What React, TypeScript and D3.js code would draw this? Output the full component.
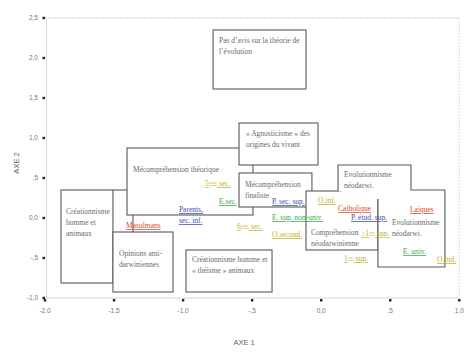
import React from "react";
import * as d3 from "d3";

// ---- Data (in axis units) ----
const xTicks = [-2, -1.5, -1, -0.5, 0, 0.5, 1];
const xTickLabels = ["-2,0", "-1,5", "-1,0", "-,5", "0,0", ",5", "1,0"];
const yTicks = [2.5, 2, 1.5, 1, 0.5, 0, -0.5, -1];
const yTickLabels = ["2,5", "2,0", "1,5", "1,0", ",5", "0,0", "-,5", "-1,0"];

// rectangular regions [x0, x1] x [y0, y1]
const boxes = [
  { id: "creaHA", x0: -1.884, x1: -1.508, y0: -0.8125, y1: 0.35 },
  { id: "mecoTheo", x0: -1.406, x1: -0.494, y0: 0.0375, y1: 0.875 },
  { id: "opinions", x0: -1.508, x1: -1.073, y0: -0.925, y1: -0.175 },
  { id: "creaTheisme", x0: -0.979, x1: -0.356, y0: -0.925, y1: -0.4 },
  { id: "pasAvis", x0: -0.783, x1: -0.11, y0: 1.6125, y1: 2.35 },
  { id: "agno", x0: -0.595, x1: -0.023, y0: 0.6625, y1: 1.1875 },
  { id: "mecoFin", x0: -0.595, x1: -0.067, y0: 0.1375, y1: 0.5625 },
  { id: "compr", x0: -0.11, x1: 0.411, y0: -0.4, y1: 0.3375 },
];

// merged "Evolutionnisme néodarwi." outline
const evolOutline: [number, number][] = [
  [0.122, 0.3375], [0.122, 0.6625], [0.65, 0.6625], [0.65, 0.35],
  [0.896, 0.35], [0.896, -0.6125], [0.411, -0.6125], [0.411, 0.2375],
];

const connectors: [number, number][][] = [
  [[-1.508, 0.35], [-1.406, 0.35]],
  [[-1.363, 0.0375], [-1.363, -0.175]],
];

const boxTexts = [
  { lines: ["Pas d’avis sur la théorie de", "l’évolution"], x: -0.74, y: 2.1875 },
  { lines: ["« Agnosticisme » des", "origines du vivant"], x: -0.545, y: 1.025 },
  { lines: ["Mécompréhension théorique"], x: -1.363, y: 0.575 },
  { lines: ["Mécompréhension", "finaliste"], x: -0.552, y: 0.3875 },
  { lines: ["Créationnisme", "homme et", "animaux"], x: -1.848, y: 0.05 },
  { lines: ["Opinions anti-", "darwiniennes"], x: -1.464, y: -0.475 },
  { lines: ["Créationnisme homme et", "« théisme » animaux"], x: -0.936, y: -0.55 },
  { lines: ["Compréhension", "néodarwinienne"], x: -0.074, y: -0.2125 },
  { lines: ["Evolutionnisme", "néodarwi."], x: 0.165, y: 0.5125 },
  { lines: ["Evolutionnisme", "néodarwi."], x: 0.512, y: -0.0875 },
];

const labels = [
  { text: "Masulmans", x: -1.413, y: -0.125, g: "religion" },
  { text: "Parents,", x: -1.03, y: 0.075, g: "parents" },
  { text: "sec. inf.", x: -1.03, y: -0.0625, g: "parents" },
  { text: "5ème sec.", x: -0.841, y: 0.4, g: "level" },
  { text: "E.sec.", x: -0.74, y: 0.175, g: "school" },
  { text: "6ème sec.", x: -0.61, y: -0.1375, g: "level" },
  { text: "P. sec. sup.", x: -0.356, y: 0.175, g: "parents" },
  { text: "E. sup. non-univ.", x: -0.356, y: -0.025, g: "school" },
  { text: "O.second.", x: -0.356, y: -0.2375, g: "level" },
  { text: "O.inf.", x: -0.023, y: 0.1875, g: "level" },
  { text: "Catholique", x: 0.122, y: 0.0875, g: "religion" },
  { text: "P. étud. sup.", x: 0.216, y: -0.025, g: "parents" },
  { text: "≥1ère sup.", x: 0.29, y: -0.225, g: "level" },
  { text: "1ère sup.", x: 0.165, y: -0.5375, g: "level" },
  { text: "Laïques", x: 0.643, y: 0.075, g: "religion" },
  { text: "E. univ.", x: 0.592, y: -0.45, g: "school" },
  { text: "O.Ind.", x: 0.839, y: -0.55, g: "level" },
];

// ---- Styles ----
const W = 474;
const H = 357;
const groupColor: Record<string, string> = {
  religion: "#e2472b",
  parents: "#3a4db0",
  school: "#3aa84a",
  level: "#c4ae1c",
};
const serif = "'Liberation Serif', 'Times New Roman', serif";
const sans = "'Liberation Sans', Arial, sans-serif";
const boxStroke = "#5a5a5a";
const textGrey = "#6a6a6a";

function renderLabel(t: string) {
  const parts = t.split(/(ème|ère)/);
  return parts.map((p, i) =>
    p === "ème" || p === "ère" ? (
      <tspan key={i} fontSize={5} baselineShift="super">{p}</tspan>
    ) : (
      <tspan key={i}>{p}</tspan>
    )
  );
}

export default function App() {
  const x = d3.scaleLinear().domain([-2, 1]).range([45, 459.3]);
  const y = d3.scaleLinear().domain([-1, 2.5]).range([298, 18]);
  const line = d3.line<[number, number]>().x((d) => x(d[0])).y((d) => y(d[1]));

  const [xMin, xMax] = x.range();
  const [yBot, yTop] = y.range();

  return (
    <div style={{ position: "absolute", left: 0, top: 0 }}>
      <svg width={W} height={H} style={{ display: "block", background: "#fff" }}>
        <rect x={0} y={0} width={W} height={H} fill="#fff" />
        {/* frame */}
        <line x1={xMin} x2={xMax} y1={yTop} y2={yTop} stroke="#cfcfcf" strokeWidth={1} strokeDasharray="2,1" />
        <line x1={xMin} x2={xMax} y1={yBot} y2={yBot} stroke="#d4d4d4" strokeWidth={1} />
        <line x1={xMax} x2={xMax} y1={yTop} y2={yBot} stroke="#dcdcdc" strokeWidth={1} strokeDasharray="2,1" />
        <line x1={xMin + 1.5} x2={xMin + 1.5} y1={yTop} y2={yBot} stroke="#c9dfe0" strokeWidth={1} />

        {/* y ticks */}
        {yTicks.map((v, i) => (
          <g key={"y" + i}>
            <rect x={xMin - 2.5} y={y(v) - 1.2} width={2.5} height={2.4} fill="#222" />
            <text x={xMin - 7} y={y(v) + 2.3} fontSize={6.5} fontFamily={sans} fill="#777" textAnchor="end">
              {yTickLabels[i]}
            </text>
          </g>
        ))}
        {/* x ticks */}
        {xTicks.map((v, i) => (
          <g key={"x" + i}>
            <rect x={x(v) - 1.2} y={yBot + 1} width={2.4} height={2.5} fill="#222" />
            <text x={x(v)} y={yBot + 15} fontSize={6.5} fontFamily={sans} fill="#777" textAnchor="middle">
              {xTickLabels[i]}
            </text>
          </g>
        ))}
        <text x={(xMin + xMax) / 2 - 8} y={345} fontSize={7.5} fontFamily={sans} fill="#666" textAnchor="middle">
          AXE 1
        </text>
        <text
          x={0}
          y={0}
          transform={`translate(19,${(yTop + yBot) / 2 + 5}) rotate(-90)`}
          fontSize={7.5}
          fontFamily={sans}
          fill="#666"
          textAnchor="middle"
        >
          AXE 2
        </text>

        {/* boxes */}
        {boxes.map((b) => (
          <rect
            key={b.id}
            x={x(b.x0)}
            y={y(b.y1)}
            width={x(b.x1) - x(b.x0)}
            height={y(b.y0) - y(b.y1)}
            fill="#fff"
            stroke={boxStroke}
            strokeWidth={1.1}
          />
        ))}
        <path d={line(evolOutline) || ""} fill="#fff" stroke={boxStroke} strokeWidth={1.1} />
        {connectors.map((c, i) => (
          <path key={"c" + i} d={line(c) || ""} fill="none" stroke={boxStroke} strokeWidth={1.1} />
        ))}

        {/* box texts */}
        {boxTexts.map((t, i) => (
          <text key={"t" + i} x={x(t.x)} y={y(t.y)} fontSize={7.5} fontFamily={serif} fill={textGrey}>
            {t.lines.map((l, j) => (
              <tspan key={j} x={x(t.x)} dy={j === 0 ? 0 : 11}>
                {l}
              </tspan>
            ))}
          </text>
        ))}

        {/* category labels */}
        {labels.map((l, i) => (
          <text
            key={"l" + i}
            x={x(l.x)}
            y={y(l.y)}
            fontSize={7.5}
            fontFamily={serif}
            fill={groupColor[l.g]}
            style={{ textDecoration: "underline" }}
          >
            {renderLabel(l.text)}
          </text>
        ))}
      </svg>
    </div>
  );
}
